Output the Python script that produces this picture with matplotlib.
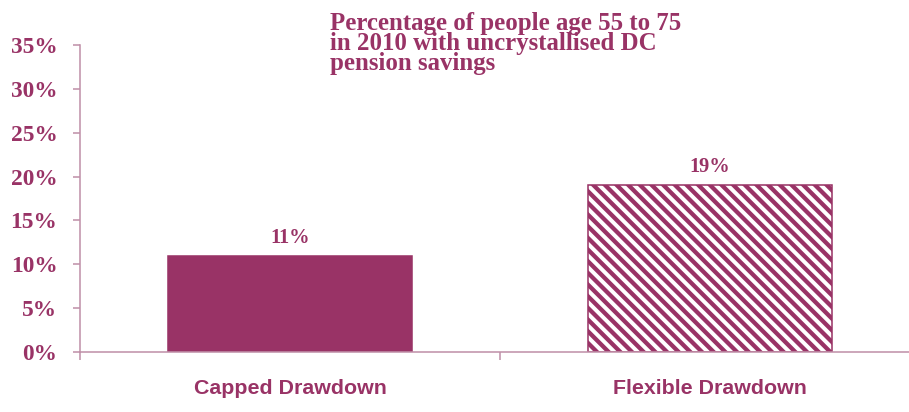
import matplotlib.pyplot as plt
from matplotlib.ticker import FixedLocator

categories = ['Capped Drawdown', 'Flexible Drawdown']
values = [11, 19]
bar_labels = ['11%', '19%']
y_ticks = [0, 5, 10, 15, 20, 25, 30, 35]

main = '#993366'
axis_col = '#c090a8'

plt.rcParams['hatch.linewidth'] = 2.2
plt.rcParams['hatch.color'] = main

dpi = 140
fig = plt.figure(figsize=(909 / dpi, 412 / dpi), dpi=dpi)
ax = fig.add_axes([0.088, 0.1456, 0.924, 0.745])

x = range(len(categories))
bars = ax.bar(x, values, width=0.58, color=[main, 'white'],
              edgecolor=[main, main], linewidth=0.8)
bars[1].set_hatch('\\\\\\\\')

for i, (v, lab) in enumerate(zip(values, bar_labels)):
    ax.text(i, v + 0.9, lab, ha='center', va='bottom', color=main,
            fontsize=10.5, fontweight='bold', family='Liberation Serif')

ax.set_xlim(-0.5, 1.5)
ax.set_ylim(0, 35)
ax.set_yticks(y_ticks)
ax.set_yticklabels([f'{t}%' for t in y_ticks])
ax.set_xticks(list(x))
ax.set_xticklabels(categories)
ax.xaxis.set_minor_locator(FixedLocator([-0.5, 0.5, 1.5]))

ax.tick_params(axis='y', direction='out', length=3.6, width=0.8, color=axis_col,
               labelcolor=main, labelsize=12, pad=8)
ax.tick_params(axis='x', which='major', length=0, labelcolor=main,
               labelsize=11, pad=14)
ax.tick_params(axis='x', which='minor', direction='out', length=4, width=0.8,
               color=axis_col)
for lab in ax.get_yticklabels():
    lab.set_fontfamily('Liberation Serif')
    lab.set_fontweight('bold')
for lab in ax.get_xticklabels():
    lab.set_fontfamily('Liberation Sans')
    lab.set_fontweight('bold')

for s in ['top', 'right']:
    ax.spines[s].set_visible(False)
for s in ['left', 'bottom']:
    ax.spines[s].set_color(axis_col)
    ax.spines[s].set_linewidth(0.8)

fig.text(0.363, 0.972, 'Percentage of people age 55 to 75\nin 2010 with uncrystallised DC\npension savings',
         ha='left', va='top', color=main, fontsize=12.8, fontweight='bold',
         family='Liberation Serif', linespacing=0.86)

fig.savefig('out.png', dpi=dpi)
